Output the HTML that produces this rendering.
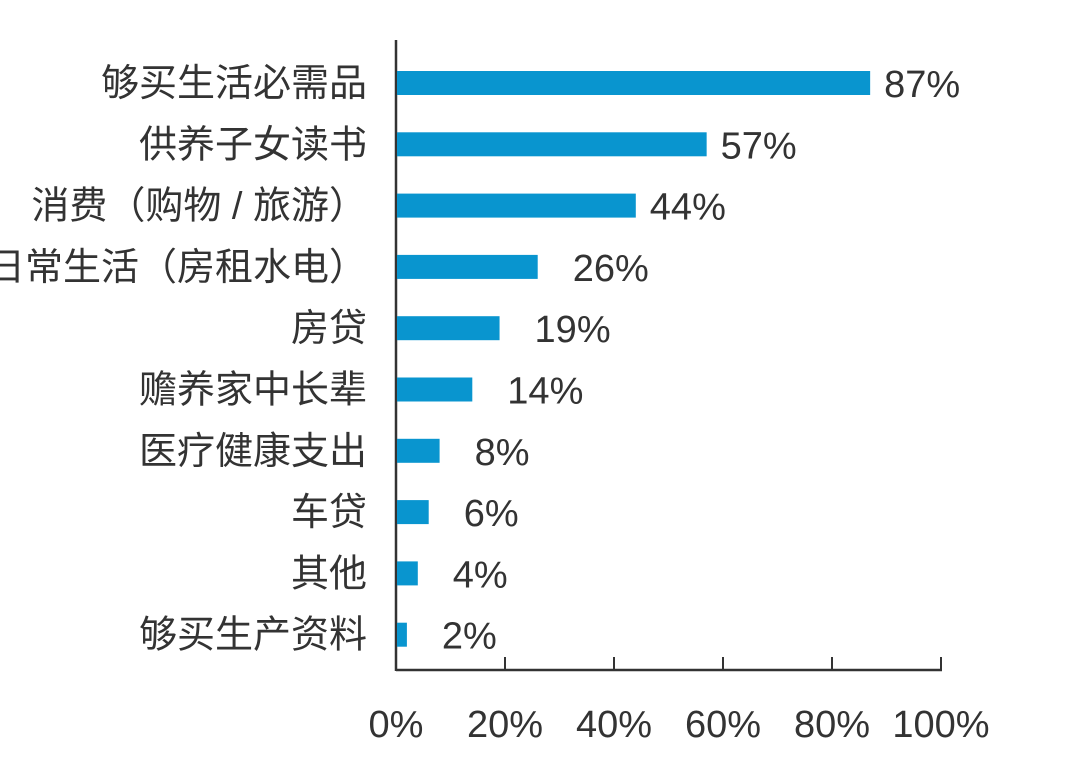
<!DOCTYPE html>
<html><head><meta charset="utf-8"><style>
html,body{margin:0;padding:0;background:#fff;}
svg{display:block;}
text{font-family:"Liberation Sans","Noto Sans CJK SC",sans-serif;fill:#333;}
</style></head><body>
<svg id="chart" width="1080" height="764" viewBox="0 0 1080 764" xmlns="http://www.w3.org/2000/svg">
<g id="axes"></g><g id="bars"></g>
</svg>
<script>
const categories = ["够买生活必需品","供养子女读书","消费（购物 / 旅游）","日常生活（房租水电）","房贷","赡养家中长辈","医疗健康支出","车贷","其他","够买生产资料"];
const values = [87,57,44,26,19,14,8,6,4,2];
const valueLabels = ["87%","57%","44%","26%","19%","14%","8%","6%","4%","2%"];
const tickValues = [0,20,40,60,80,100];
const tickLabels = ["0%","20%","40%","60%","80%","100%"];

const NS="http://www.w3.org/2000/svg";
const x0=396, pxPer=5.45;
function xScale(v){return x0+v*pxPer;}
const yTop=83, step=61.3;
function yScale(i){return yTop+i*step;}
function mk(tag,attrs,parent){const e=document.createElementNS(NS,tag);for(const k in attrs)e.setAttribute(k,attrs[k]);parent.appendChild(e);return e;}
const axes=document.getElementById('axes'), bars=document.getElementById('bars');

const yAxis=mk('line',{x1:x0,y1:40,x2:x0,y2:671,stroke:'#333','stroke-width':2.5},axes);


const xAxis=mk('line',{x1:x0,y1:670,x2:xScale(100)+1,y2:670,stroke:'#333','stroke-width':2.5},axes);



tickValues.forEach((v,i)=>{
  const x=xScale(v);
  if(v>0){
    const t=mk('line',{x1:x,y1:657,x2:x,y2:670,stroke:'#333','stroke-width':2},axes);
    
    
  }
  const l=mk('text',{x:x,y:737,'text-anchor':'middle','font-size':38},axes);
  l.textContent=tickLabels[i];
  
  
});

values.forEach((v,i)=>{
  const y=yScale(i);
  const c=mk('text',{x:367,y:y+13,'text-anchor':'end','font-size':38,'font-family':'"Noto Sans CJK SC",sans-serif'},bars);
  c.textContent=categories[i];
  
  
  const r=mk('rect',{x:x0+1,y:y-12,width:xScale(v)-x0-1,height:24,fill:'#0995cf'},bars);
  
  
  const vl=mk('text',{x:xScale(v)+(v<30?35:14),y:y+14,'font-size':38},bars);
  vl.textContent=valueLabels[i];
  
  
});
</script>
</body></html>
